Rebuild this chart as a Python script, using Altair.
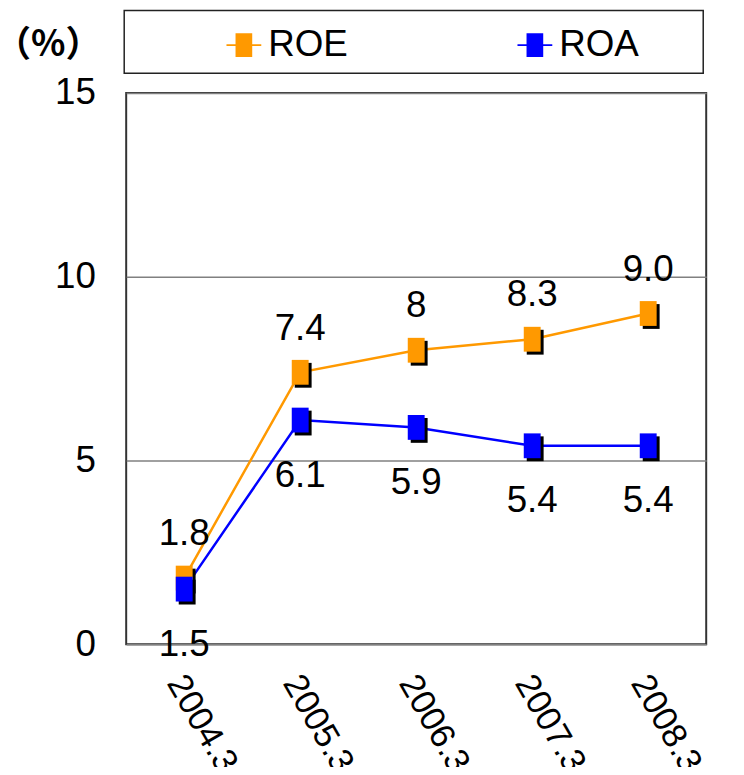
import altair as alt
import pandas as pd

years = ["2004.3", "2005.3", "2006.3", "2007.3", "2008.3"]
roe = [1.8, 7.4, 8.0, 8.3, 9.0]
roa = [1.5, 6.1, 5.9, 5.4, 5.4]
roe_labels = ["1.8", "7.4", "8", "8.3", "9.0"]
roa_labels = ["1.5", "6.1", "5.9", "5.4", "5.4"]
series = ["ROE", "ROA"]
colors = ["#FF9900", "#0000FF"]

rows = []
for s, vals, labs in [("ROE", roe, roe_labels), ("ROA", roa, roa_labels)]:
    for y, v, l in zip(years, vals, labs):
        rows.append({"year": y, "series": s, "value": v, "label": l})
df = pd.DataFrame(rows)

FONT = "Liberation Sans, Arimo, Arial, sans-serif"
FS = 37
MARK = "M-0.68,-1H0.68V1H-0.68Z"
SHADOW = "M-0.44,-0.76H0.92V1.24H-0.44Z"
LEG = "M-1.46,-0.08H1.46V0.08H-1.46Z M-0.7,-1H0.7V1H-0.7Z"

x = alt.X(
    "year:N", sort=years,
    scale=alt.Scale(type="point", padding=0.5),
    axis=alt.Axis(title=None, labelAngle=60, labelAlign="left", labelBaseline="middle",
                  labelFontSize=35, labelFont=FONT, labelColor="black", labelPadding=33,
                  labelOffset=-9, ticks=False, domain=False, grid=False),
)
y = alt.Y(
    "value:Q", scale=alt.Scale(domain=[0, 15]),
    axis=alt.Axis(values=[0, 5, 10, 15], title="（%）", titleAngle=0, titleX=-79, titleY=-49,
                  titleAlign="center", titleBaseline="middle", titleFontSize=36,
                  titleFont="Noto Sans CJK JP", titleFontWeight="bold", titleColor="black",
                  labelFontSize=FS, labelFont=FONT, labelColor="black", labelPadding=31,
                  ticks=False, domain=False, grid=True, gridColor="#808080", gridWidth=1.5),
)
cscale = alt.Scale(domain=series, range=colors)
legend = alt.Legend(title=None, orient="none", legendX=100, legendY=-67, direction="horizontal",
                    symbolType=LEG, symbolSize=576, symbolStrokeWidth=0, symbolOpacity=1,
                    labelFontSize=FS, labelFont=FONT, labelColor="black", labelOffset=6,
                    columnPadding=169, padding=0)

base = alt.Chart(df)

layers = []
for s, c in zip(series, colors):
    sub = base.transform_filter(alt.datum.series == s)
    layers.append(sub.mark_line(strokeWidth=2.5, color=c).encode(x=x, y=y))
for s in series:
    sub = base.transform_filter(alt.datum.series == s)
    layers.append(sub.mark_point(shape=SHADOW, size=625, filled=True, color="black", opacity=1).encode(x=x, y=y))
    layers.append(sub.mark_point(shape=MARK, size=625, filled=True, opacity=1).encode(
        x=x, y=y, color=alt.Color("series:N", scale=cscale, legend=legend)))

roe_text = base.transform_filter(alt.datum.series == "ROE").mark_text(
    fontSize=FS, font=FONT, color="black", dy=-44, baseline="middle"
).encode(x=x, y=y, text="label:N")
roa_text = base.transform_filter(alt.datum.series == "ROA").mark_text(
    fontSize=FS, font=FONT, color="black", dy=56, baseline="middle"
).encode(x=x, y=y, text="label:N")
layers += [roe_text, roa_text]

frame = alt.Chart(alt.Data(values=[{}])).mark_rect(
    fillOpacity=0, stroke="#222222", strokeWidth=1.5
).encode(x=alt.value(-2), x2=alt.value(581), y=alt.value(-83), y2=alt.value(-20))
layers.append(frame)

chart = alt.layer(*layers).properties(
    width=584, height=555,
    padding={"left": 119, "top": 83, "right": 30, "bottom": 121},
    autosize=alt.AutoSizeParams(type="none"),
).configure_view(stroke="#333333", strokeWidth=2)

chart.save("out.html", embed_options={"renderer": "svg", "actions": False})
